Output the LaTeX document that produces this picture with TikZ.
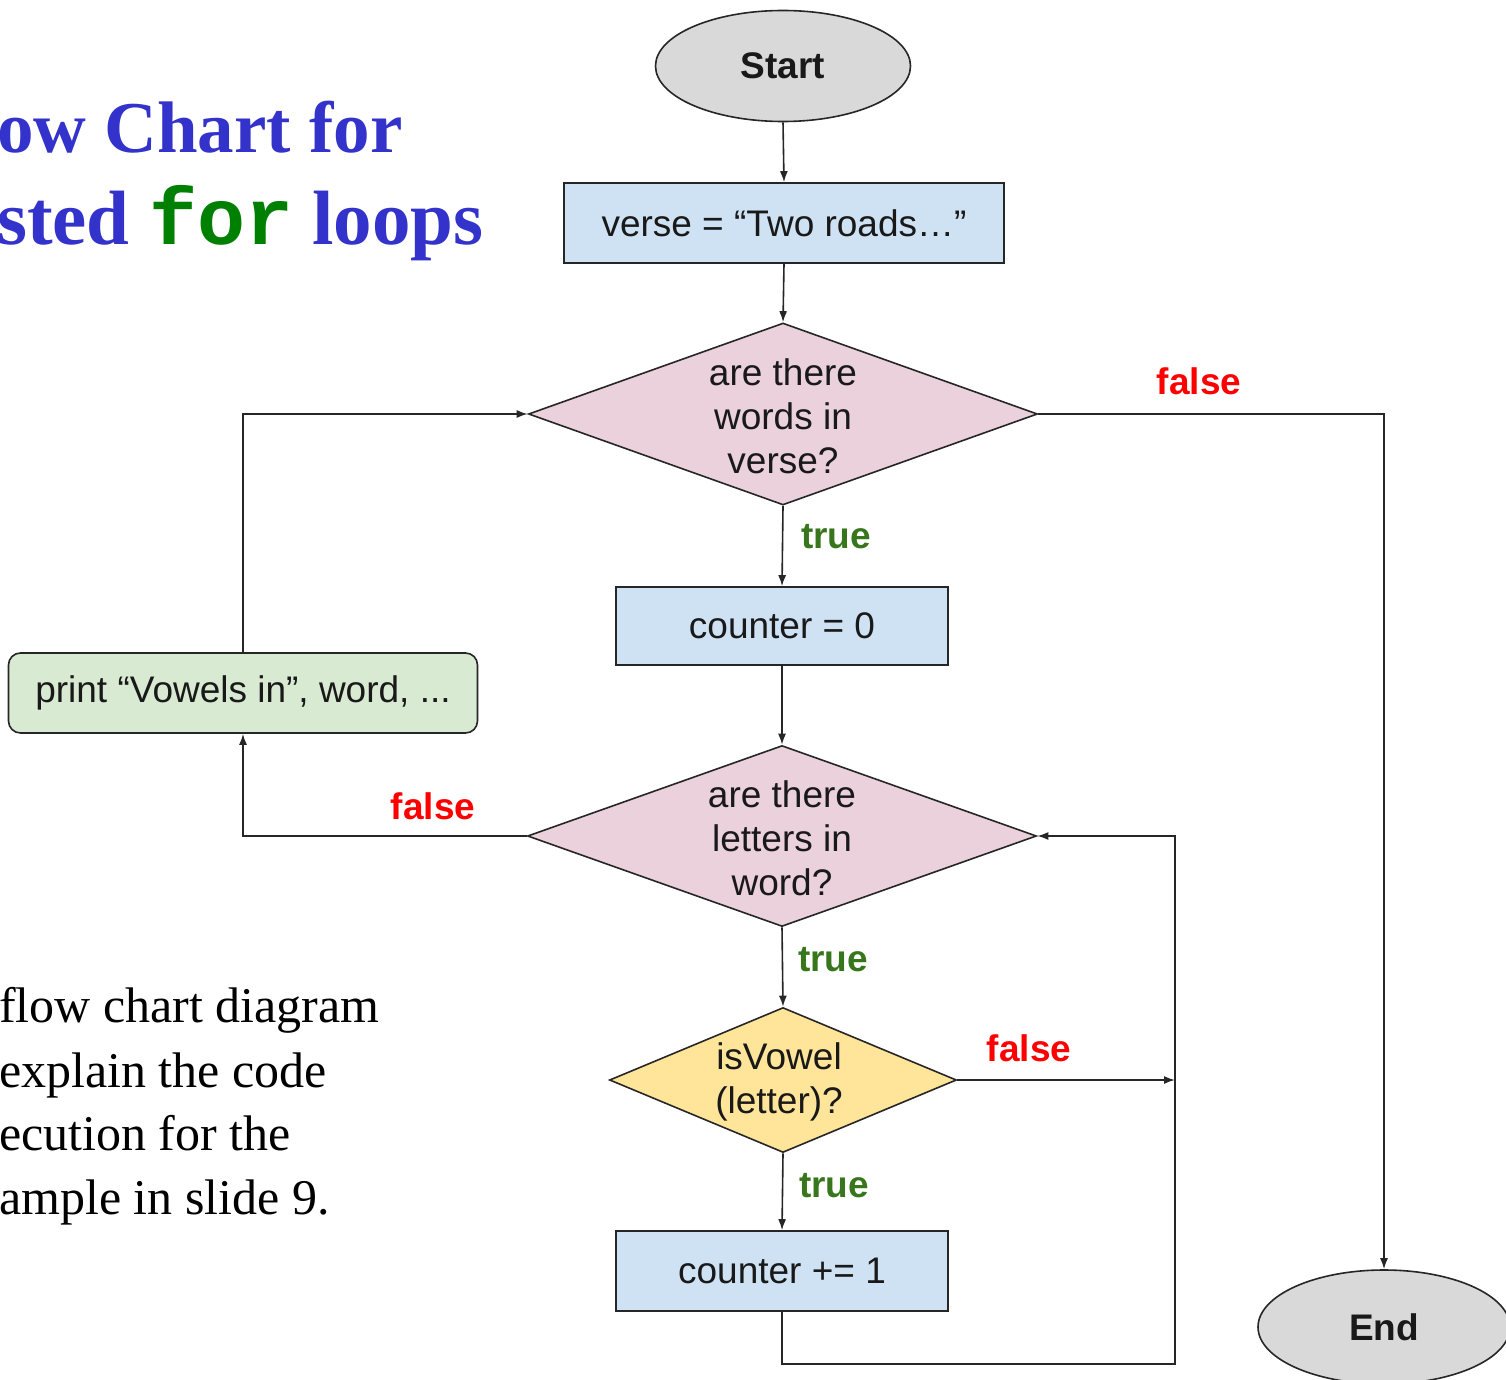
\documentclass[tikz,border=0pt]{standalone}
\usepackage{fontspec}
\setmainfont{Liberation Sans}
\newfontfamily\serifgar{Liberation Serif}
\newfontfamily\monob{Liberation Mono}
\usetikzlibrary{shapes.geometric,arrows.meta}
\definecolor{termgray}{HTML}{D9D9D9}
\definecolor{procblue}{HTML}{CFE2F3}
\definecolor{decpink}{HTML}{EAD1DC}
\definecolor{decyellow}{HTML}{FFE599}
\definecolor{printgreen}{HTML}{D9EAD3}
\definecolor{truegreen}{HTML}{38761D}
\definecolor{falsered}{HTML}{FF0000}
\definecolor{titleblue}{HTML}{3333CC}
\definecolor{forgreen}{HTML}{008000}
\definecolor{linegray}{HTML}{262626}
\begin{document}
\begin{tikzpicture}[x=1pt,y=-1pt,
  shapebase/.style={draw=linegray, line width=1.6pt, font=\fontsize{37}{44}\selectfont, text=black!90, inner sep=0pt},
  term/.style={shapebase, ellipse, fill=termgray},
  proc/.style={shapebase, rectangle, fill=procblue},
  dec/.style={shapebase, diamond},
  dtext/.style={align=center, inner sep=0pt, font=\fontsize{37}{44}\selectfont, text=black!90},
  conn/.style={line width=1.6pt, draw=linegray, -{Latex[length=11pt,width=8pt]}},
  tlabel/.style={inner sep=0pt, font=\bfseries\fontsize{37}{44}\selectfont, text=truegreen},
  flabel/.style={inner sep=0pt, font=\bfseries\fontsize{37}{44}\selectfont, text=falsered},
  titletext/.style={anchor=base west, inner sep=0pt, font=\serifgar\bfseries\fontsize{#1}{90}\selectfont, text=titleblue},
  bodytext/.style={anchor=base west, inner sep=0pt, font=\serifgar\fontsize{50}{64}\selectfont, text=black}
]
\useasboundingbox (0,0) rectangle (1506,1380);
\clip (0,0) rectangle (1506,1380);

% title and side text
\node[titletext=73] (title1) at (-3,153) {ow Chart for};
\node[titletext=77] (title2) at (-3,245) {sted {\monob\bfseries\fontsize{80}{90}\selectfont\color{forgreen}for} loops};
\node[bodytext] (b1) at (-1,1022) {flow chart diagram};
\node[bodytext] (b2) at (-1,1087) {explain the code};
\node[bodytext] (b3) at (-1,1150) {ecution for the};
\node[bodytext] (b4) at (-1,1214) {ample in slide 9.};

% nodes
\node[term, minimum width=255, minimum height=111] (start) at (783,66) {\bfseries Start};
\node[proc, minimum width=440, minimum height=80] (verse) at (784,223) {verse = “Two roads…”};
\node[dec, fill=decpink, minimum width=509, minimum height=182] (d1) at (783,414) {};
\node[dtext] (d1t) at (783,416) {are there\\words in\\verse?};
\node[proc, minimum width=332, minimum height=78] (c0) at (782,626) {counter = 0};
\node[dec, fill=decpink, minimum width=509, minimum height=181] (d2) at (782,836) {};
\node[dtext] (d2t) at (782,838) {are there\\letters in\\word?};
\node[dec, fill=decyellow, minimum width=347, minimum height=145] (d3) at (783,1080) {};
\node[dtext] (d3t) at (779,1082) {isVowel\\(letter)?};
\node[proc, minimum width=332, minimum height=80] (c1) at (782,1271) {counter += 1};
\node[shapebase, rectangle, rounded corners=12pt, fill=printgreen, minimum width=469, minimum height=80] (pr) at (243,693) {print “Vowels in”, word, ...};
\node[term, minimum width=252, minimum height=114] (end) at (1384,1327) {\bfseries End};

% labels
\node[flabel] (f1) at (1199,381) {false};
\node[tlabel] (t1) at (836,537) {true};
\node[flabel] (f2) at (433,806) {false};
\node[tlabel] (t2) at (833,960) {true};
\node[flabel] (f3) at (1029,1048) {false};
\node[tlabel] (t3) at (834,1186) {true};

% connectors
\coordinate (rj) at (1175,1364);
\draw[conn] (start.south) -- (verse.north);
\draw[conn] (verse.south) -- (d1.north);
\draw[conn] (d1.south) -- (c0.north);
\draw[conn] (c0.south) -- (d2.north);
\draw[conn] (d2.south) -- (d3.north);
\draw[conn] (d3.south) -- (c1.north);
\draw[conn] (d1.east) -| (end.north);
\draw[conn] (d2.west) -| (pr.south);
\draw[conn] (pr.north) |- (d1.west);
\draw[conn] (c1.south) |- (rj) -- (rj |- d2.east) -- (d2.east);
\draw[conn] (d3.east) -- (d3.east -| rj);
\end{tikzpicture}
\end{document}
